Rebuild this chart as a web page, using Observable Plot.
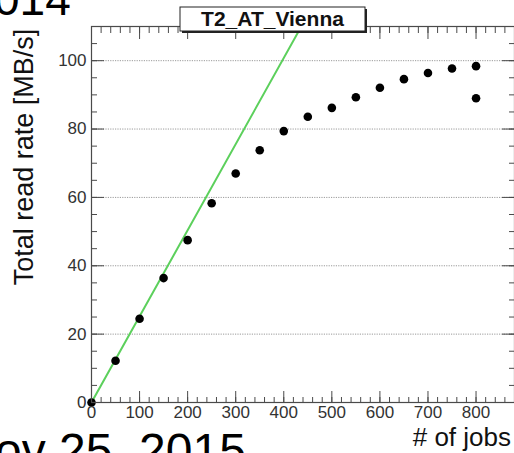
<!DOCTYPE html>
<html>
<head>
<meta charset="utf-8">
<script src="https://cdn.jsdelivr.net/npm/d3@7"></script>
<script src="https://cdn.jsdelivr.net/npm/@observablehq/plot@0.6"></script>
<style>
  html, body { margin: 0; padding: 0; background: #fff; overflow: hidden; }
  #chart { position: relative; width: 514px; height: 453px; }
</style>
</head>
<body>
<div id="chart"></div>
<script>
// Read throughput measured at the site versus number of concurrent jobs
const site = "T2_AT_Vienna";
const jobs = [0, 50, 100, 150, 200, 250, 300, 350, 400, 450, 500, 550, 600, 650, 700, 750, 800, 800];
const rate = [0, 12.2, 24.5, 36.4, 47.5, 58.3, 67.0, 73.8, 79.4, 83.6, 86.2, 89.3, 92.1, 94.6, 96.4, 97.7, 98.4, 89.0];

// Ideal linear scaling (MB/s per job)
const slope = 0.252;

// Axis ticks
const xLabels = [0, 100, 200, 300, 400, 500, 600, 700, 800];
const xMinor = d3.range(0, 881, 20);
const yLabels = [0, 20, 40, 60, 80, 100];
const yMinor = d3.range(0, 111, 5);
const gridValues = [20, 40, 60, 80, 100];

const xDomain = [0, 880];
const yDomain = [0, 110];

const points = jobs.map((j, i) => ({jobs: j, rate: rate[i]}));
const fit = xDomain.map(j => ({jobs: j, rate: slope * j}));

const font = "'Liberation Sans', Arial, Helvetica, sans-serif";
const axisColor = "#4a4a4a";

const chart = Plot.plot({
  width: 514,
  height: 453,
  marginLeft: 91,
  marginRight: 0,
  marginTop: 26,
  marginBottom: 51,
  x: {domain: xDomain},
  y: {domain: yDomain},
  style: {fontFamily: font, fontSize: "17px", color: "#333", background: "white", overflow: "visible"},
  marks: [
    Plot.gridY(gridValues, {stroke: "#9a9a9a", strokeOpacity: 1, strokeDasharray: "1.2,1.2", strokeWidth: 1}),
    Plot.line(fit, {x: "jobs", y: "rate", stroke: "#5cd05c", strokeWidth: 2, clip: true}),
    Plot.dot(points, {x: "jobs", y: "rate", r: 4.3, fill: "black", stroke: "none"}),

    // bottom axis: inward ticks + labels
    Plot.axisX(xMinor, {anchor: "bottom", tickSize: -5, text: null, label: null, stroke: axisColor}),
    Plot.axisX(xLabels, {anchor: "bottom", tickSize: -11, text: null, label: null, stroke: axisColor}),
    Plot.axisX(xLabels, {anchor: "bottom", tickSize: 0, tickPadding: 3, label: null, fill: "#333"}),
    // top axis: ticks only
    Plot.axisX(xMinor, {anchor: "top", tickSize: -6, text: null, label: null, stroke: axisColor}),
    Plot.axisX(xLabels, {anchor: "top", tickSize: -12, text: null, label: null, stroke: axisColor}),
    // left axis
    Plot.axisY(yMinor, {anchor: "left", tickSize: -6, text: null, label: null, stroke: axisColor}),
    Plot.axisY(yLabels, {anchor: "left", tickSize: -13, text: null, label: null, stroke: axisColor}),
    Plot.axisY(yLabels, {anchor: "left", tickSize: 0, tickPadding: 5, label: null, fill: "#333"}),
    // right axis: ticks only
    Plot.axisY(yMinor, {anchor: "right", tickSize: -6, text: null, label: null, stroke: axisColor}),
    Plot.axisY(yLabels, {anchor: "right", tickSize: -13, text: null, label: null, stroke: axisColor}),

    Plot.frame({stroke: axisColor, strokeWidth: 1.2})
  ]
});

document.getElementById("chart").appendChild(chart);

const svg = d3.select(chart);

// Axis titles
svg.append("text")
  .attr("transform", "translate(33,157) rotate(-90)")
  .attr("text-anchor", "middle")
  .attr("font-family", font)
  .attr("font-size", 27)
  .attr("fill", "#111")
  .text("Total read rate [MB/s]");

svg.append("text")
  .attr("x", 511)
  .attr("y", 446)
  .attr("text-anchor", "end")
  .attr("font-family", font)
  .attr("font-size", 26)
  .attr("fill", "#111")
  .text("# of jobs");

// Site title box with drop shadow
const box = {x: 180, y: 7, w: 185, h: 24};
svg.append("rect")
  .attr("x", box.x + 2).attr("y", box.y + 2)
  .attr("width", box.w).attr("height", box.h)
  .attr("fill", "#222");
svg.append("rect")
  .attr("x", box.x).attr("y", box.y)
  .attr("width", box.w).attr("height", box.h)
  .attr("fill", "white").attr("stroke", "#222").attr("stroke-width", 1);
svg.append("text")
  .attr("x", box.x + box.w / 2)
  .attr("y", box.y + 19)
  .attr("text-anchor", "middle")
  .attr("font-family", font)
  .attr("font-weight", "bold")
  .attr("font-size", 21)
  .attr("fill", "#111")
  .text(site);

// Surrounding slide text
svg.append("text")
  .attr("x", -6).attr("y", 15)
  .attr("text-anchor", "start")
  .attr("font-family", font)
  .attr("font-size", 46)
  .attr("fill", "#000")
  .text("014");
svg.append("text")
  .attr("x", -5).attr("y", 467)
  .attr("text-anchor", "start")
  .attr("font-family", font)
  .attr("font-size", 48)
  .attr("fill", "#000")
  .text("ov 25, 2015");
</script>
</body>
</html>
